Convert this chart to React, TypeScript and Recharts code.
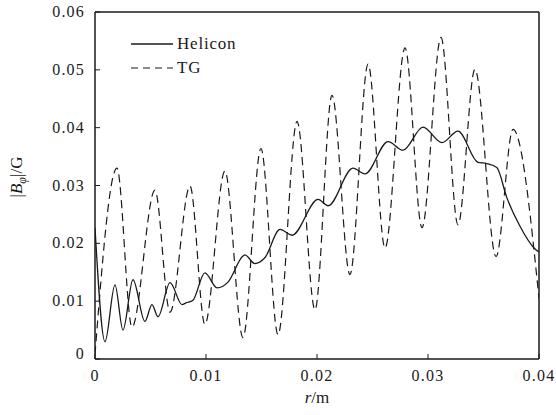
import React from 'react';
import { LineChart, Line, XAxis, YAxis, ReferenceLine, Label } from 'recharts';

// TG curve (dashed): radius in m, |B_phi| in G, read at peaks and troughs
const tgR = [
  0, 0.00198, 0.00333, 0.0054, 0.00676, 0.00856, 0.0099, 0.0117, 0.01333,
  0.01495, 0.01649, 0.0182, 0.01982, 0.02135, 0.02297, 0.0246, 0.02613,
  0.02793, 0.02946, 0.03117, 0.0327, 0.03423, 0.03613, 0.03766, 0.04,
];
const tgB = [
  0.0008, 0.033, 0.0055, 0.0292, 0.0081, 0.0299, 0.006, 0.0325, 0.0037,
  0.0364, 0.0042, 0.0411, 0.0085, 0.0456, 0.0146, 0.051, 0.0192,
  0.0538, 0.0227, 0.0556, 0.0232, 0.0501, 0.0177, 0.0397, 0.0105,
];

// Helicon curve (solid)
const heliconR = [
  0, 0.0009, 0.0018, 0.00252, 0.00342, 0.0045, 0.00513, 0.00568, 0.00676,
  0.00784, 0.0082, 0.0088, 0.0099, 0.011, 0.01198, 0.01333, 0.0135, 0.0144,
  0.0153, 0.01667, 0.01775, 0.0201, 0.021, 0.02324, 0.02432, 0.0264,
  0.02775, 0.02955, 0.03126, 0.0327, 0.0345, 0.0353, 0.0362, 0.0371,
  0.0383, 0.03955, 0.04,
];
const heliconB = [
  0.0227, 0.003, 0.0128, 0.005, 0.0137, 0.0065, 0.0094, 0.0073, 0.0132,
  0.0094, 0.0097, 0.0101, 0.0149, 0.0123, 0.0133, 0.0178, 0.018, 0.0165,
  0.0175, 0.0224, 0.0214, 0.0276, 0.0265, 0.033, 0.032, 0.0376,
  0.0361, 0.0401, 0.0374, 0.0394, 0.034, 0.0338, 0.0331, 0.0279,
  0.0229, 0.0192, 0.0185,
];

const xTicks = [0, 0.01, 0.02, 0.03, 0.04];
const yTicks = [0, 0.01, 0.02, 0.03, 0.04, 0.05, 0.06];

const tgData = tgR.map((r, i) => ({ r, b: tgB[i] }));
const heliconData = heliconR.map((r, i) => ({ r, b: heliconB[i] }));

const FONT = '"Liberation Serif", serif';
const INK = '#1a1a1a';

const fmt = (v: number) => (v === 0 ? '0' : v.toFixed(2));

const XTick = ({ x, y, payload }: any) => (
  <text x={x} y={y + 27} textAnchor="middle" fontFamily={FONT} fontSize={16} letterSpacing={1.2} fill={INK}>
    {fmt(payload.value)}
  </text>
);

const YTick = ({ x, y, payload }: any) => (
  <text x={x} y={y + 5 - (payload.value === 0 ? 5 : 0)} textAnchor="end" fontFamily={FONT} fontSize={16} letterSpacing={1.2} fill={INK}>
    {fmt(payload.value)}
  </text>
);

// legend sits inside the plot, top left, like the matlab one
const LegendBox = () => (
  <div
    style={{
      position: 'absolute', left: 131, top: 32,
      fontFamily: FONT, fontSize: 17, letterSpacing: 0.8, color: INK, lineHeight: '24px',
    }}
  >
    <div style={{ display: 'flex', alignItems: 'center' }}>
      <svg width={42} height={24}>
        <line x1={0} y1={12} x2={42} y2={12} stroke={INK} strokeWidth={1.3} />
      </svg>
      <span style={{ marginLeft: 4 }}>Helicon</span>
    </div>
    <div style={{ display: 'flex', alignItems: 'center' }}>
      <svg width={42} height={24}>
        <line x1={0} y1={12} x2={42} y2={12} stroke={INK} strokeWidth={1.2} strokeDasharray="7 5" />
      </svg>
      <span style={{ marginLeft: 4 }}>TG</span>
    </div>
  </div>
);

const XTitle = (props: any) => {
  const vb = props.viewBox || {};
  const cx = vb.x + vb.width / 2;
  return (
    <text x={cx} y={vb.y + 44} textAnchor="middle" fontFamily={FONT} fontSize={17} fill={INK}>
      <tspan fontStyle="italic">r</tspan>
      <tspan>/m</tspan>
    </text>
  );
};

const YTitle = () => (
  <text x={22} y={177} transform="rotate(-90 22 177)" textAnchor="middle" fontFamily={FONT} fontSize={17} fill={INK}>
    <tspan>|</tspan>
    <tspan fontStyle="italic">B</tspan>
    <tspan fontStyle="italic" fontSize={12} dy={4}>φ</tspan>
    <tspan dy={-4}>|/G</tspan>
  </text>
);

export default function App() {
  return (
    <div style={{ position: 'absolute', left: 0, top: 0, width: 556, height: 415, background: '#fff', fontFamily: FONT }}>
      <LineChart width={556} height={415} margin={{ top: 12, right: 17, bottom: 0, left: 0 }}>
        <XAxis
          dataKey="r"
          type="number"
          domain={[0, 0.04]}
          ticks={xTicks}
          allowDataOverflow
          height={56}
          tickSize={-5}
          tickMargin={0}
          tick={<XTick />}
          axisLine={{ stroke: INK, strokeWidth: 1.5 }}
          tickLine={{ stroke: INK }}
          label={<Label content={XTitle} />}
        />
        <YAxis
          type="number"
          domain={[0, 0.06]}
          ticks={yTicks}
          allowDataOverflow
          width={95}
          tickSize={-5}
          tickMargin={15}
          tick={<YTick />}
          axisLine={{ stroke: INK, strokeWidth: 1.5 }}
          tickLine={{ stroke: INK }}
          label={<Label content={YTitle} />}
        />
        <ReferenceLine x={0.04} stroke={INK} strokeWidth={1.5} />
        <ReferenceLine y={0.06} stroke={INK} strokeWidth={1.5} />
        <Line
          data={heliconData}
          dataKey="b"
          name="Helicon"
          type="monotone"
          stroke={INK}
          strokeWidth={1.3}
          dot={false}
          isAnimationActive={false}
        />
        <Line
          data={tgData}
          dataKey="b"
          name="TG"
          type="monotone"
          stroke={INK}
          strokeWidth={1.2}
          strokeDasharray="8 5"
          dot={false}
          isAnimationActive={false}
        />
      </LineChart>
      <LegendBox />
    </div>
  );
}
